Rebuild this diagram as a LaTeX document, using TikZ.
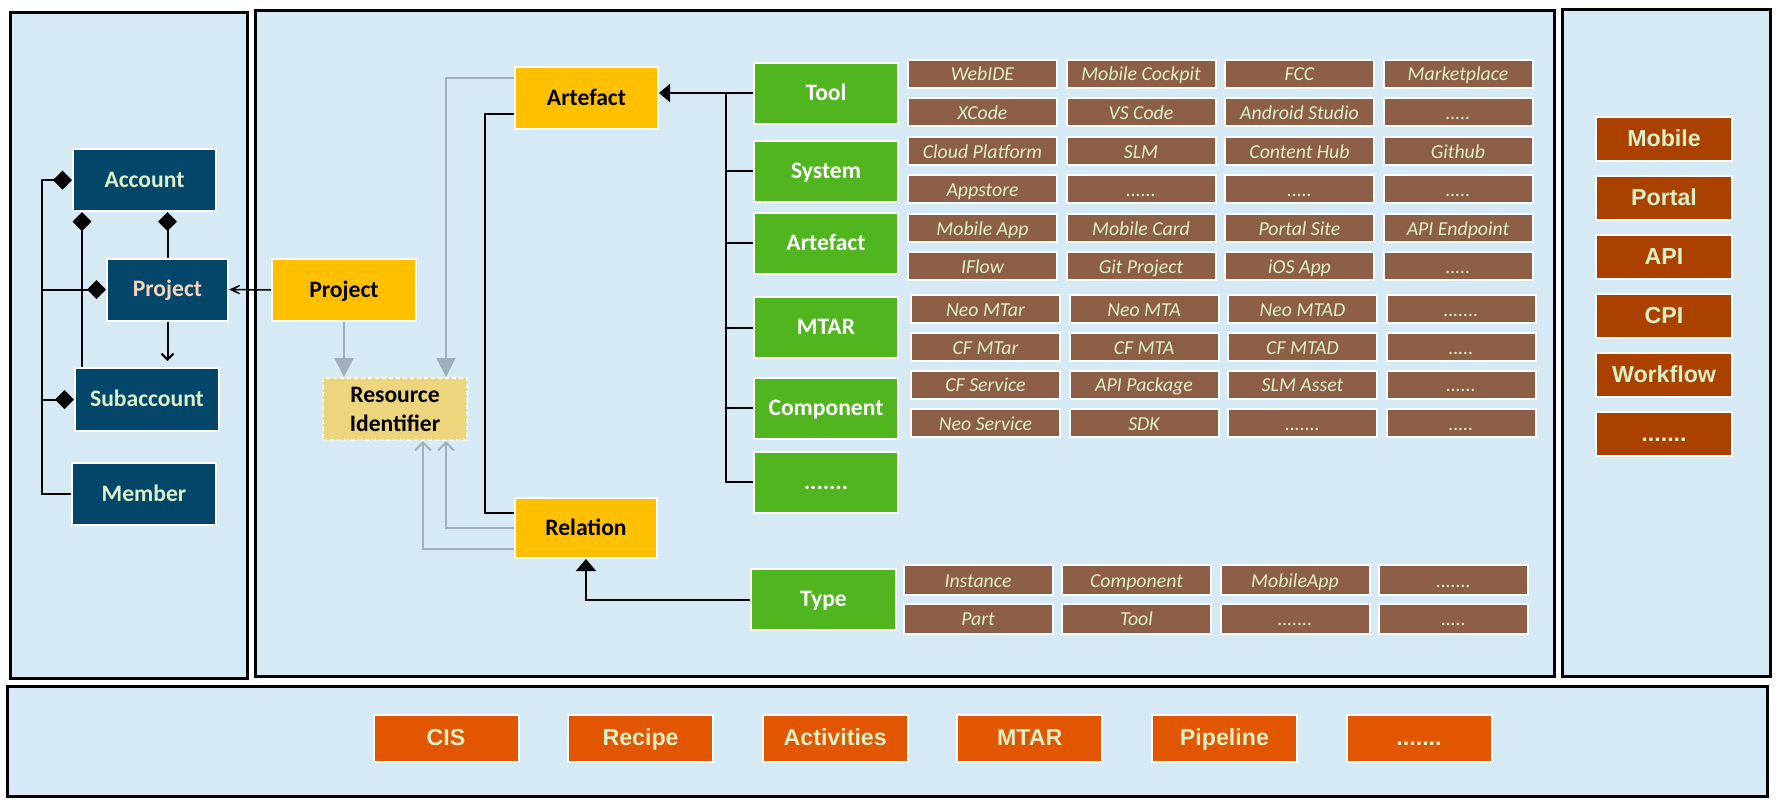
\documentclass[tikz,border=0pt]{standalone}
\usepackage{fontspec}
\setmainfont{Carlito}
\newfontfamily\arialfont{Liberation Sans}
\usetikzlibrary{arrows.meta}
\definecolor{panelblue}{RGB}{214,234,245}
\definecolor{navy}{RGB}{3,70,106}
\definecolor{amber}{RGB}{255,192,0}
\definecolor{sand}{RGB}{236,213,124}
\definecolor{leaf}{RGB}{80,181,30}
\definecolor{bark}{RGB}{140,95,70}
\definecolor{rust}{RGB}{170,65,0}
\definecolor{flame}{RGB}{226,86,0}
\definecolor{mint}{RGB}{220,240,200}
\definecolor{peach}{RGB}{248,212,184}
\definecolor{steel}{RGB}{160,175,185}
\tikzstyle{panel} = [draw=black, line width=1.5pt, fill=panelblue]
\tikzstyle{block} = [draw=white, line width=1pt, rectangle, inner sep=0pt, minimum width=72pt, minimum height=31pt, align=center, font=\fontsize{11.8pt}{14.5pt}\selectfont\bfseries]
\tikzstyle{oneline} = [text height=0.78em, text depth=0.04em]
\tikzstyle{unit} = [block, oneline, fill=navy, text=mint]
\tikzstyle{entity} = [block, oneline, fill=amber, text=black]
\tikzstyle{kind} = [block, oneline, fill=leaf, text=white, minimum height=30.5pt]
\tikzstyle{cell} = [draw=white, line width=1pt, rectangle, fill=bark, text=mint, inner sep=0pt, minimum width=74.5pt, minimum height=14pt, oneline, font=\fontsize{9.9pt}{11pt}\selectfont\itshape]
\tikzstyle{channel} = [draw=white, line width=1pt, rectangle, fill=rust, text=mint, inner sep=0pt, minimum width=68pt, minimum height=22pt, text height=0.76em, text depth=0.04em, font=\arialfont\fontsize{11.6pt}{13pt}\selectfont\bfseries]
\tikzstyle{service} = [channel, fill=flame, minimum width=72.5pt, minimum height=23.5pt]
\tikzstyle{refline} = [draw=steel, line width=1pt]
\tikzstyle{wire} = [draw=black, line width=1pt]
\tikzstyle{owns} = [-{Diamond[length=9.5pt,width=9.5pt]}]

\begin{document}
\begin{tikzpicture}[x=0.5pt, y=-0.5pt, node distance=79.25pt, >={Triangle[length=5.5pt,width=9pt]}]
    \tikzset{font={\fontsize{11.8pt}{14.5pt}\selectfont}}
    \useasboundingbox (0,0) rectangle (1779,805);
    % Panels
    \draw [panel] (10,12) rectangle (247,678);
    \draw [panel] (255,10) rectangle (1554,676);
    \draw [panel] (1562,9) rectangle (1770,676);
    \draw [panel] (7,686) rectangle (1767,796);

    % Account side
    \node [unit, minimum width=71.5pt] (account) at (144.5,180) {Account};
    \node [unit, minimum width=60.5pt, text=peach] (proj) at (167.5,289.5) {Project};
    \node [unit, minimum height=31.5pt] (subacc) at (147,399.5) {Subaccount};
    \node [unit] (member) at (144,494) {Member};
    \coordinate (leg) at ([xshift=5pt]account.south west);
    \draw [wire, owns] (member.west) -- ++(-29.5,0) coordinate (spine) |- (account.west);
    \draw [wire, owns] (spine |- proj.west) -- (proj.west);
    \draw [wire, owns] (spine |- subacc.west) -- (subacc.west);
    \draw [wire, owns] (proj.north) -- (proj.north |- account.south);
    \draw [wire, owns] (leg |- subacc.north) -- (leg);
    \draw [wire, -{Straight Barb[length=3pt,width=6pt]}, shorten >=3pt] (proj.south) -- (proj.south |- subacc.north);

    % Resource model
    \node [entity] (rproj) at (344,290) {Project};
    \node [block, fill=sand, dash pattern=on 2pt off 1.5pt] (resid) at (395,409) {Resource\\ Identifier};
    \node [entity, minimum width=71.5pt] (art) at (586.5,98) {Artefact};
    \node [entity, minimum width=71pt, minimum height=30pt] (rel) at (586,528) {Relation};
    \draw [wire, line width=0.75pt, -{Stealth[length=10pt,width=9pt,inset=7.5pt]}] (rproj.west) -- (proj.east);
    \draw [refline, -{Triangle[length=9.5pt,width=9.5pt]}] (rproj.south) -- (rproj.south |- resid.north);
    \draw [refline, -{Triangle[length=9.5pt,width=9.5pt]}] ([yshift=-6pt]art.north west) -| ([xshift=25.5pt]resid.north);
    \draw [refline, -{Straight Barb[length=4pt,width=8pt]}] (rel.west) -| ([xshift=25.5pt]resid.south);
    \draw [refline, -{Straight Barb[length=4pt,width=8pt]}] ([yshift=5pt]rel.south west) -| ([xshift=14pt]resid.south);
    \draw [wire] ([yshift=8pt]art.south west) -- ++(-29,0) |- ([yshift=-8pt]rel.north west);

    % Artefact kinds
    \node [kind] (tool) at (826,93) {Tool};
    \node [kind, below of=tool, node distance=39pt] (system) {System};
    \node [kind, below of=system, node distance=36pt] (gart) {Artefact};
    \node [kind, below of=gart, node distance=42.25pt] (mtar) {MTAR};
    \node [kind, below of=mtar, node distance=40.25pt] (comp) {Component};
    \node [kind, below of=comp, node distance=37pt] (kdots) {.......};
    \node [kind, minimum width=72.5pt] (type) at (823.5,599.5) {Type};
    \draw [wire, ->] (tool.west) -- (tool.west -| art.east);
    \draw [wire] (kdots.west) -- ++(-27,0) coordinate (trunk) -- (trunk |- tool.west);
    \draw [wire] (trunk |- system.west) -- (system.west);
    \draw [wire] (trunk |- gart.west) -- (gart.west);
    \draw [wire] (trunk |- mtar.west) -- (mtar.west);
    \draw [wire] (trunk |- comp.west) -- (comp.west);
    \draw [wire, -{Triangle[length=6pt,width=10pt]}] (type.west) -| (rel.south);

    % Instances
    \node [cell] (t1a) at (982.5,73.5) {WebIDE}; \node [cell, right of=t1a] (t1b) {Mobile Cockpit}; \node [cell, right of=t1b] (t1c) {FCC}; \node [cell, right of=t1c] (t1d) {Marketplace};
    \node [cell, below of=t1a, node distance=19.25pt] (t2a) {XCode}; \node [cell, right of=t2a] (t2b) {VS Code}; \node [cell, right of=t2b] (t2c) {Android Studio}; \node [cell, right of=t2c] (t2d) {.....};
    \node [cell, below of=t2a, node distance=19.5pt] (s1a) {Cloud Platform}; \node [cell, right of=s1a] (s1b) {SLM}; \node [cell, right of=s1b] (s1c) {Content Hub}; \node [cell, right of=s1c] (s1d) {Github};
    \node [cell, below of=s1a, node distance=19pt] (s2a) {Appstore}; \node [cell, right of=s2a] (s2b) {......}; \node [cell, right of=s2b] (s2c) {.....}; \node [cell, right of=s2c] (s2d) {.....};
    \node [cell, below of=s2a, node distance=19.5pt] (a1a) {Mobile App}; \node [cell, right of=a1a] (a1b) {Mobile Card}; \node [cell, right of=a1b] (a1c) {Portal Site}; \node [cell, right of=a1c] (a1d) {API Endpoint};
    \node [cell, below of=a1a, node distance=19pt] (a2a) {IFlow}; \node [cell, right of=a2a] (a2b) {Git Project}; \node [cell, right of=a2b] (a2c) {iOS App}; \node [cell, right of=a2c] (a2d) {.....};
    \node [cell] (m1a) at (985.5,309) {Neo MTar}; \node [cell, right of=m1a] (m1b) {Neo MTA}; \node [cell, right of=m1b] (m1c) {Neo MTAD}; \node [cell, right of=m1c] (m1d) {.......};
    \node [cell, below of=m1a, node distance=19pt] (m2a) {CF MTar}; \node [cell, right of=m2a] (m2b) {CF MTA}; \node [cell, right of=m2b] (m2c) {CF MTAD}; \node [cell, right of=m2c] (m2d) {.....};
    \node [cell, below of=m2a, node distance=18.75pt] (k1a) {CF Service}; \node [cell, right of=k1a] (k1b) {API Package}; \node [cell, right of=k1b] (k1c) {SLM Asset}; \node [cell, right of=k1c] (k1d) {......};
    \node [cell, below of=k1a, node distance=19.25pt] (k2a) {Neo Service}; \node [cell, right of=k2a] (k2b) {SDK}; \node [cell, right of=k2b] (k2c) {.......}; \node [cell, right of=k2c] (k2d) {.....};
    \node [cell, minimum height=15pt] (y1a) at (978,580) {Instance}; \node [cell, minimum height=15pt, right of=y1a] (y1b) {Component}; \node [cell, minimum height=15pt, right of=y1b] (y1c) {MobileApp}; \node [cell, minimum height=15pt, right of=y1c] (y1d) {.......};
    \node [cell, minimum height=15pt, below of=y1a, node distance=19.25pt] (y2a) {Part}; \node [cell, minimum height=15pt, right of=y2a] (y2b) {Tool}; \node [cell, minimum height=15pt, right of=y2b] (y2c) {.......}; \node [cell, minimum height=15pt, right of=y2c] (y2d) {.....};

    % Channels
    \node [channel] (mobile) at (1664,139) {Mobile};
    \node [channel, below of=mobile, node distance=29.5pt] (portal) {Portal};
    \node [channel, below of=portal, node distance=29.5pt] (api) {API};
    \node [channel, below of=api, node distance=29.5pt] (cpi) {CPI};
    \node [channel, below of=cpi, node distance=29.5pt] (workflow) {Workflow};
    \node [channel, below of=workflow, node distance=29.5pt] (cdots) {.......};

    % Services
    \node [service] (cis) at (446,738.5) {CIS};
    \node [service, right of=cis, node distance=97.3pt] (recipe) {Recipe};
    \node [service, right of=recipe, node distance=97.3pt] (activities) {Activities};
    \node [service, right of=activities, node distance=97.3pt] (smtar) {MTAR};
    \node [service, right of=smtar, node distance=97.3pt] (pipeline) {Pipeline};
    \node [service, right of=pipeline, node distance=97.3pt] (sdots) {.......};
\end{tikzpicture}
\end{document}
